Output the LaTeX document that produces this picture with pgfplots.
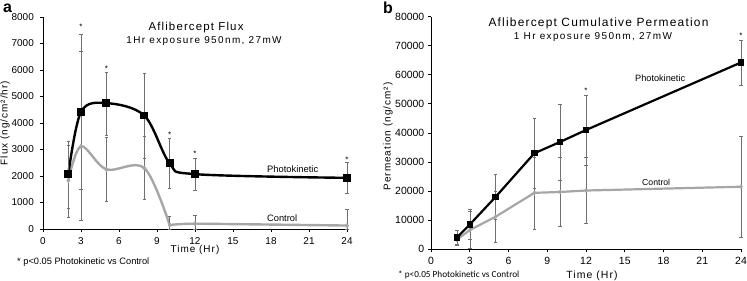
\documentclass[border=0pt]{standalone}
\usepackage{pgfplots}
\pgfplotsset{compat=1.18}
\usepackage{fontspec}
\setmainfont{Liberation Sans}
\newfontfamily\spaced[LetterSpace=10]{Liberation Sans}
\newfontfamily\wide[LetterSpace=14]{Liberation Sans}
\newfontfamily\carlito{Carlito}
\definecolor{ctrl}{HTML}{A6A6A6}
\definecolor{ebar}{HTML}{707070}
\begin{document}
\begin{tikzpicture}
\useasboundingbox (0bp,0bp) rectangle (747bp,281bp);
\pgfplotsset{
  myaxis/.style={
    scale only axis, axis lines*=left, clip=false,
    axis line style={line width=0.9bp},
    tick align=outside, major tick length=3bp,
    every tick/.style={black, line width=0.8bp},
    xmin=0, xmax=24, xtick={0,3,...,24},
    scaled ticks=false,
    /pgf/number format/1000 sep={},
    /pgf/number format/assume math mode=true,
    ticklabel style={font=\fontsize{10}{12}\selectfont},
    error bars/error bar style={ebar, line width=0.5bp, solid},
    error bars/error mark options={rotate=90, mark size=1.8bp, ebar, line width=0.5bp, solid},
  },
  pk/.style={black, line width=2.4bp, mark=square*, mark options={solid, fill=black}},
  ctl/.style={ctrl, line width=2.4bp, mark=diamond*, mark size=2.2bp, mark options={solid, fill=ctrl, draw=ctrl, line width=0.5bp}},
}
% ---------------- left panel ----------------
\begin{axis}[myaxis, at={(43bp,52bp)}, anchor=south west, width=304bp, height=212bp,
  ymin=0, ymax=8000, ytick={0,1000,2000,3000,4000,5000,6000,7000,8000},
  yticklabels={{0\hspace{7bp}},1000,2000,3000,4000,5000,6000,7000,8000},
  yticklabel style={anchor=east, inner sep=0pt, xshift=-6bp},
  xticklabel style={anchor=north, inner sep=0pt, yshift=-5bp}]
% control: smooth curve in two sections so the curve does not overshoot after 10 h
\addplot[ctl, smooth, tension=0.55, mark=none, forget plot] coordinates {
 (2,1830) (3,3120) (5,2250) (8,2300) (10,150)
 };
\addplot[ctl, smooth, tension=0.3, mark=none, forget plot] coordinates {
 (10,150) (12,200) (24,130)
 };
\addplot[ctl, draw=none, error bars/.cd, y dir=both, y explicit]
 coordinates {
 (2,1830) += (0,1340) -= (0,1030)
 (3,3120) += (0,3600) -= (0,2790)
 (5,2250) += (0,1210) -= (0,1190)
 (8,2300) += (0,1210) -= (0,1180)
 (10,150) += (0,315) -= (0,150)
 (12,200) += (0,320) -= (0,200)
 (24,130) += (0,630) -= (0,130)
 };
\addplot[pk, smooth, tension=0.55, mark size=2.7bp, error bars/.cd, y dir=both, y explicit]
 coordinates {
 (2,2070) += (0,1260) -= (0,1630)
 (3,4420) += (0,2930) -= (0,2920)
 (5,4750) += (0,1170) -= (0,1200)
 (8,4280) += (0,1590) -= (0,1610)
 (10,2480) += (0,930) -= (0,930)
 (12,2070) += (0,610) -= (0,610)
 (24,1930) += (0,570) -= (0,570)
 };
\node[font=\fontsize{8}{8}\selectfont, inner sep=0pt, yshift=-1.5bp] at (axis cs:3,7700) {*};
\node[font=\fontsize{8}{8}\selectfont, inner sep=0pt, yshift=-1.5bp] at (axis cs:5,6090) {*};
\node[font=\fontsize{8}{8}\selectfont, inner sep=0pt, yshift=-1.5bp] at (axis cs:10,3620) {*};
\node[font=\fontsize{8}{8}\selectfont, inner sep=0pt, yshift=-1.5bp] at (axis cs:12,2890) {*};
\node[font=\fontsize{8}{8}\selectfont, inner sep=0pt, yshift=-1.5bp] at (axis cs:24,2670) {*};
\end{axis}
% ---------------- right panel ----------------
\begin{axis}[myaxis, at={(431bp,31.7bp)}, anchor=south west, width=310bp, height=232.8bp,
  ymin=0, ymax=80000, ytick={0,10000,20000,30000,40000,50000,60000,70000,80000},
  yticklabels={{0\hspace{2bp}},10000,20000,30000,40000,50000,60000,70000,80000},
  ticklabel style={font=\fontsize{10.5}{12}\selectfont},
  yticklabel style={anchor=east, inner sep=0pt, xshift=-3.5bp},
  xticklabel style={anchor=north, inner sep=0pt, yshift=-5bp}]
\addplot[ctl, line width=2.2bp, mark size=2bp, error bars/.cd, y dir=both, y explicit]
 coordinates {
 (2,3300) +- (0,2000)
 (3,6600) +- (0,6400)
 (5,11200) +- (0,8700)
 (8,19400) +- (0,12400)
 (10,19700) +- (0,11900)
 (12,20200) +- (0,11300)
 (24,21500) +- (0,17300)
 };
\addplot[pk, line width=2.2bp, mark size=2.1bp, error bars/.cd, y dir=both, y explicit]
 coordinates {
 (2,4000) +- (0,2400)
 (3,8500) +- (0,5200)
 (5,18000) +- (0,7700)
 (8,33000) +- (0,12000)
 (10,36900) +- (0,13000)
 (12,41000) +- (0,12000)
 (24,64200) +- (0,7800)
 };
\node[font=\fontsize{8}{8}\selectfont, inner sep=0pt, yshift=-1.5bp] at (axis cs:12,55000) {*};
\node[font=\fontsize{8}{8}\selectfont, inner sep=0pt, yshift=-1.5bp] at (axis cs:24,74000) {*};
\end{axis}
% ---------------- texts ----------------
\begin{scope}[x=1bp,y=1bp]
\node[anchor=base west, inner sep=0pt, font=\bfseries\fontsize{16}{16}\selectfont] at (3,269) {a};
\node[anchor=base west, inner sep=0pt, font=\bfseries\fontsize{16}{16}\selectfont] at (383,268) {b};
\node[anchor=base, inner sep=0pt, font=\spaced\fontsize{11.5}{12}\selectfont] at (196,251) {Aflibercept Flux};
\node[anchor=base, inner sep=0pt, font=\wide\fontsize{10}{12}\selectfont] at (204,238) {1Hr exposure 950nm, 27mW};
\node[anchor=base, inner sep=0pt, font=\spaced\fontsize{12}{12}\selectfont] at (598.5,254.3) {Aflibercept Cumulative Permeation};
\node[anchor=base, inner sep=0pt, font=\wide\fontsize{10}{12}\selectfont] at (593,242) {1 Hr exposure 950nm, 27mW};
\node[rotate=90, anchor=base, inner sep=0pt, font=\spaced\fontsize{10}{12}\selectfont] at (7.5,158) {Flux (ng/cm²/hr)};
\node[rotate=90, anchor=base, inner sep=0pt, font=\spaced\fontsize{10}{12}\selectfont] at (390.5,144.5) {Permeation (ng/cm²)};
\node[anchor=base, inner sep=0pt, font=\spaced\fontsize{10}{12}\selectfont] at (195,28.5) {Time (Hr)};
\node[anchor=base, inner sep=0pt, font=\spaced\fontsize{10.5}{12}\selectfont] at (592,2.5) {Time (Hr)};
\node[anchor=base west, inner sep=0pt, font=\fontsize{9.3}{11}\selectfont] at (17,17) {* p<0.05 Photokinetic vs Control};
\node[anchor=base west, inner sep=0pt, font=\carlito\fontsize{9.25}{11}\selectfont] at (398,3.5) {* p<0.05 Photokinetic vs Control};
\node[anchor=base west, inner sep=0pt, font=\fontsize{9.4}{11}\selectfont] at (267,109) {Photokinetic};
\node[anchor=base west, inner sep=0pt, font=\fontsize{9.3}{11}\selectfont] at (267,60) {Control};
\node[anchor=base west, inner sep=0pt, font=\fontsize{9.2}{11}\selectfont] at (635,200) {Photokinetic};
\node[anchor=base west, inner sep=0pt, font=\fontsize{8.7}{11}\selectfont] at (642,96) {Control};
\end{scope}
\end{tikzpicture}
\end{document}
